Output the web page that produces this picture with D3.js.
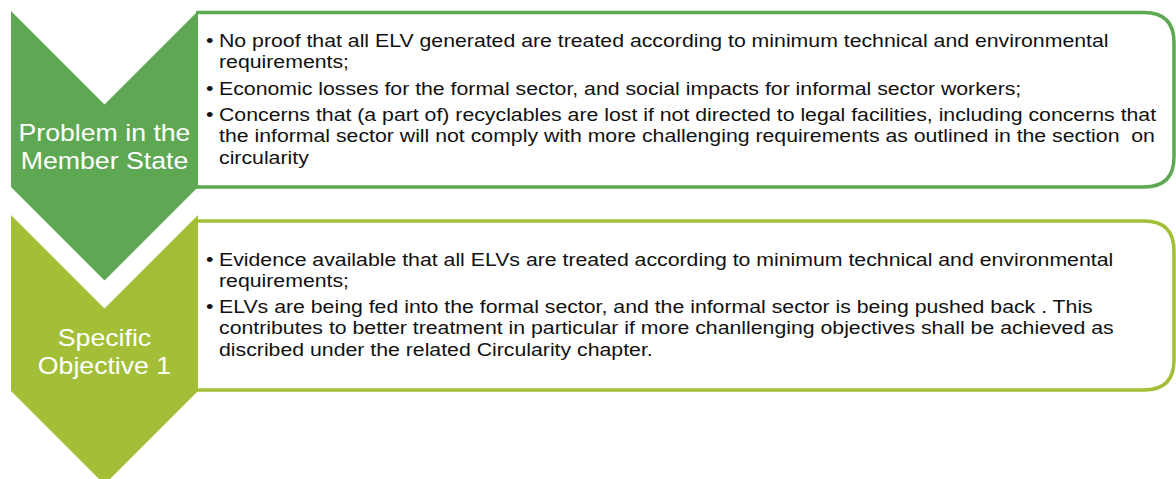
<!DOCTYPE html>
<html>
<head>
<meta charset="utf-8">
<script src="https://cdn.jsdelivr.net/npm/d3@7"></script>
<style>
  body { margin: 0; background: #fff; }
  svg { display: block; font-family: "Liberation Sans", Arial, sans-serif; }
  text { white-space: pre; }
</style>
</head>
<body>
<svg id="chart"></svg>
<script>
// stage names, colours and the bullet text (lines as wrapped in the picture)
var stages = ["Problem in the Member State", "Specific Objective 1"];
var stageLines = [["Problem in the", "Member State"], ["Specific", "Objective 1"]];
var stageColors = ["#5ea854", "#a3bf37"];

var bullets1 = [
  ["No proof that all ELV generated are treated according to minimum technical and environmental", "requirements;"],
  ["Economic losses for the formal sector, and social impacts for informal sector workers;"],
  ["Concerns that (a part of) recyclables are lost if not directed to legal facilities, including concerns that",
   "the informal sector will not comply with more challenging requirements as outlined in the section  on",
   "circularity"]
];
var bullets2 = [
  ["Evidence available that all ELVs are treated according to minimum technical and environmental", "requirements;"],
  ["ELVs are being fed into the formal sector, and the informal sector is being pushed back . This",
   "contributes to better treatment in particular if more chanllenging objectives shall be achieved as",
   "discribed under the related Circularity chapter."]
];
var allBullets = [bullets1, bullets2];

var width = 1176, height = 479;
var svg = d3.select("#chart").attr("width", width).attr("height", height);

// the picture is a bit stretched sideways, so text gets a small x-scale
var sx = 1.15;

// vertical layout of the two rows
var rowY = d3.scaleBand().domain(stages).range([11, 419]).paddingInner(0);
var chevW = 187, chevX = 11, bodyH = 176, tip = 93.5;
var boxRight = 1174;

var rows = svg.selectAll("g.row")
  .data(stages)
  .enter()
  .append("g")
  .attr("class", "row")
  .attr("transform", function(d) { return "translate(0," + rowY(d) + ")"; });

// rounded box on the right (only right corners are rounded)
rows.append("path")
  .attr("d", function(d, i) {
    var top = i == 0 ? 1.5 : 6, bot = i == 0 ? bodyH : bodyH - 1, r = 30;
    var x0 = chevX + chevW - 2, x1 = boxRight;
    return "M" + x0 + "," + top + " L" + (x1 - r) + "," + top +
      " Q" + x1 + "," + top + " " + x1 + "," + (top + r) +
      " L" + x1 + "," + (bot - r) +
      " Q" + x1 + "," + bot + " " + (x1 - r) + "," + bot +
      " L" + x0 + "," + bot;
  })
  .attr("fill", "#fff")
  .attr("stroke", function(d, i) { return stageColors[i]; })
  .attr("stroke-width", 3.5);

// chevron
rows.append("path")
  .attr("d", function() {
    var l = chevX, r = chevX + chevW, m = chevX + chevW / 2;
    return "M" + l + ",0 L" + m + "," + tip + " L" + r + ",0 L" + r + "," + bodyH +
      " L" + m + "," + (bodyH + tip) + " L" + l + "," + bodyH + "Z";
  })
  .attr("fill", function(d, i) { return stageColors[i]; });

// stage label
rows.each(function(d, i) {
  var g = d3.select(this);
  var y0 = i == 0 ? 130 : 131;
  stageLines[i].forEach(function(line, k) {
    g.append("text")
      .attr("text-anchor", "middle")
      .attr("fill", "#fff")
      .attr("font-size", 23.5)
      .attr("transform", "translate(" + (chevX + chevW / 2) + "," + (y0 + k * 27.5) + ") scale(" + 1.135 + ",1)")
      .text(line);
  });
});

// bullets
var lineH = 21.3, paraGap = 5, fs = 18.5;
rows.each(function(d, i) {
  var g = d3.select(this);
  var y = i == 0 ? 36 : 50.5;
  allBullets[i].forEach(function(para) {
    g.append("text")
      .attr("transform", "translate(206," + y + ") scale(" + sx + ",1)")
      .attr("font-size", fs).attr("fill", "#111").text("\u2022");
    para.forEach(function(line, k) {
      g.append("text")
        .attr("transform", "translate(219," + (y + k * lineH) + ") scale(" + sx + ",1)")
        .attr("font-size", fs)
        .attr("fill", "#111")
        .text(line);
    });
    y += para.length * lineH + paraGap;
  });
});
</script>
</body>
</html>
